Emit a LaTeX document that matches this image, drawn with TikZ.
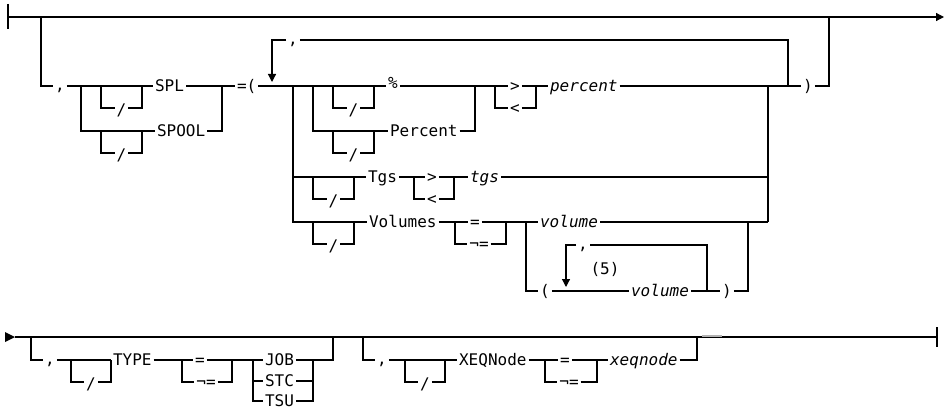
\documentclass[tikz,border=0pt]{standalone}
\usepackage{fontspec}
\setmonofont{DejaVu Sans Mono}[ItalicFont={DejaVu Sans Mono Oblique}]
\usetikzlibrary{arrows.meta}
\newcommand\kwf{\fontsize{16}{16}\selectfont\ttfamily}
\begin{document}
\begin{tikzpicture}[x=1pt,y=-1pt, line width=1.2pt,
  kw/.style={font=\kwf, inner sep=1.5pt, text height=11.7pt, text depth=0pt},
  var/.style={kw, font=\kwf\itshape},
  tip/.style={-{Triangle[length=8pt,width=8pt]}}]
\useasboundingbox (0,0) rectangle (945,412);
% ---------------- row 1 nodes ----------------
\node[kw] (c1) at (60,86) {\raisebox{1.5pt}{,}};
\node[kw] (sA) at (121.5,108) {\raisebox{-2pt}{/}};
\node[kw] (sB) at (121.5,153) {\raisebox{-2pt}{/}};
\node[kw,anchor=west] (spl) at (153,86) {SPL};
\node[kw,anchor=west] (spool) at (155,131) {SPOOL};
\node[kw,anchor=west] (eqp) at (235,86) {=(};
\node[kw] (cL1) at (293,40) {\raisebox{1.5pt}{,}};
\node[kw] (sC) at (353.5,108) {\raisebox{-2pt}{/}};
\node[kw] (sD) at (353.5,153) {\raisebox{-2pt}{/}};
\node[kw] (pct) at (393,86) {\raisebox{3pt}{\%}};
\node[kw,anchor=west] (perc) at (388,131) {Percent};
\node[kw] (gt1) at (515,86) {>};
\node[kw] (lt1) at (515,108) {<};
\node[var,anchor=west] (percV) at (548,86) {percent};
\node[kw] (rp1) at (808,86) {)};
\node[kw] (sE) at (333.5,199) {\raisebox{-2pt}{/}};
\node[kw,anchor=west] (tgs) at (366,177) {Tgs};
\node[kw] (gt2) at (432,177) {>};
\node[kw] (lt2) at (432,199) {<};
\node[var,anchor=west] (tgsV) at (468,177) {tgs};
\node[kw] (sF) at (333.5,244) {\raisebox{-2pt}{/}};
\node[kw,anchor=west] (vol) at (367,222) {Volumes};
\node[kw] (eq1) at (475,222) {=};
\node[kw] (ne1) at (479,244) {¬=};
\node[var,anchor=west] (volV) at (538,222) {volume};
\node[kw] (lp) at (545,291) {(};
\node[var,anchor=west] (volV2) at (629,291) {volume};
\node[kw] (rp2) at (727,291) {)};
\node[kw] (cL2) at (583,245) {\raisebox{1.5pt}{,}};
\node[kw] (five) at (605,269) {(5)};
% ---------------- row 1 lines ----------------
\draw (8,4) -- (8,29);
\draw[tip] (8,17) -- (944,17);
\draw (41,17) -- (41,86) -- (c1.west);
\draw (c1.east) -- (spl.west);
\draw (81,86) |- (spool.west);
\draw (101,86) |- (sA.west); \draw (sA.east) -| (142,86);
\draw (101,131) |- (sB.west); \draw (sB.east) -| (142,131);
\draw (spl.east) -- (eqp.west);
\draw (spool.east) -| (222,86);
\draw (eqp.east) -- (pct.west);
\draw[tip] (cL1.west) -- (272,40) -- (272,82);
\draw (cL1.east) -- (788,40) -- (788,86);
\draw (313,86) |- (perc.west);
\draw (333,86) |- (sC.west); \draw (sC.east) -| (374,86);
\draw (333,131) |- (sD.west); \draw (sD.east) -| (374,131);
\draw (pct.east) -- (gt1.west);
\draw (perc.east) -| (475,86);
\draw (495,86) |- (lt1.west); \draw (lt1.east) -| (536,86);
\draw (gt1.east) -- (percV.west);
\draw (percV.east) -- (rp1.west);
\draw (rp1.east) -- (829,86) -- (829,17);
\draw (293,86) -- (293,222) -- (vol.west);
\draw (293,177) -- (tgs.west);
\draw (313,177) |- (sE.west); \draw (sE.east) -| (354,177);
\draw (313,222) |- (sF.west); \draw (sF.east) -| (354,222);
\draw (tgs.east) -- (gt2.west); \draw (gt2.east) -- (tgsV.west);
\draw (414,177) |- (lt2.west); \draw (lt2.east) -| (454,177);
\draw (tgsV.east) -- (768,177);
\draw (768,86) -- (768,222);
\draw (vol.east) -- (eq1.west); \draw (eq1.east) -- (volV.west);
\draw (455,222) |- (ne1.west); \draw (ne1.east) -| (506,222);
\draw (volV.east) -- (768,222);
\draw (526,222) |- (lp.west); \draw (lp.east) -- (volV2.west);
\draw (volV2.east) -- (rp2.west); \draw (rp2.east) -| (748,222);
\draw (707,291) -- (707,245) -- (cL2.east);
\draw[tip] (cL2.west) -- (566,245) -- (566,287);
% ---------------- row 2 nodes ----------------
\node[kw] (c2) at (50,360) {\raisebox{1.5pt}{,}};
\node[kw] (sG) at (91,382) {\raisebox{-2pt}{/}};
\node[kw,anchor=west] (type) at (111,360) {TYPE};
\node[kw] (eq2) at (200,360) {=};
\node[kw] (ne2) at (206,382) {¬=};
\node[kw,anchor=west] (job) at (263,360) {JOB};
\node[kw,anchor=west] (stc) at (263,381) {STC};
\node[kw,anchor=west] (tsu) at (263,401) {TSU};
\node[kw] (c3) at (382,360) {\raisebox{1.5pt}{,}};
\node[kw] (sH) at (425,382) {\raisebox{-2pt}{/}};
\node[kw,anchor=west] (xeq) at (457,360) {XEQNode};
\node[kw] (eq3) at (565,360) {=};
\node[kw] (ne3) at (569,382) {¬=};
\node[var,anchor=west] (xeqV) at (608,360) {xeqnode};
% ---------------- row 2 lines ----------------
\fill (5,332) -- (15,337) -- (5,342) -- cycle;
\draw (15,337) -- (937,337);
\draw (937,327) -- (937,347);
\draw (31,337) -- (31,360) -- (c2.west); \draw (c2.east) -- (type.west);
\draw (71,360) |- (sG.west); \draw (sG.east) -| (111,360);
\draw (type.east) -- (eq2.west); \draw (eq2.east) -- (job.west);
\draw (182,360) |- (ne2.west); \draw (ne2.east) -| (232,360);
\draw (253,360) -- (253,401) -- (tsu.west); \draw (253,381) -- (stc.west);
\draw (job.east) -- (333,360) -- (333,337);
\draw (stc.east) -- (313,381); \draw (tsu.east) -- (313,401) -- (313,360);
\draw (363,337) -- (363,360) -- (c3.west); \draw (c3.east) -- (xeq.west);
\draw (405,360) |- (sH.west); \draw (sH.east) -| (445,360);
\draw (xeq.east) -- (eq3.west); \draw (eq3.east) -- (xeqV.west);
\draw (545,360) |- (ne3.west); \draw (ne3.east) -| (597,360);
\draw (xeqV.east) -- (697,360) -- (697,337);
\draw[gray!60, line width=2pt] (702,336) -- (722,336);
\end{tikzpicture}
\end{document}
